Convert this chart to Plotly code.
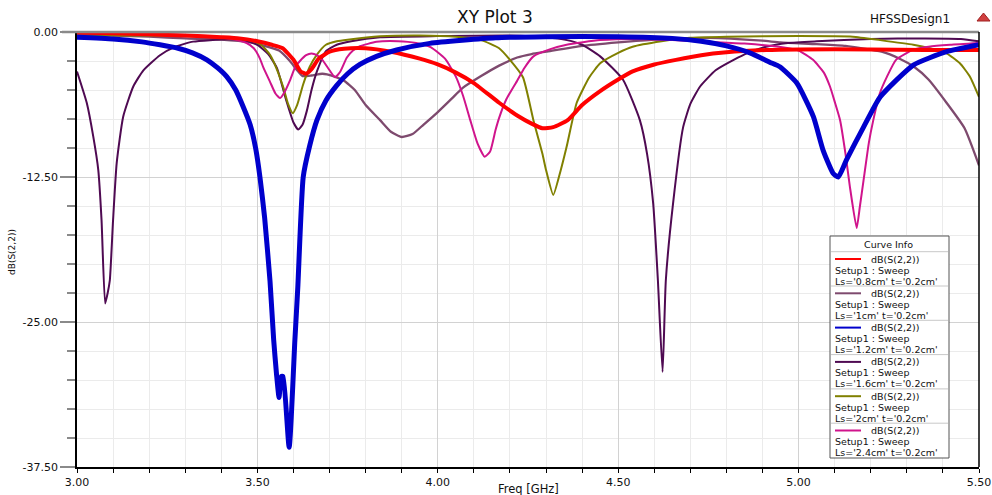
import plotly.graph_objects as go

# ---------------- data ----------------
labels = ["Ls='0.8cm' t='0.2cm'", "Ls='1cm' t='0.2cm'", "Ls='1.2cm' t='0.2cm'",
          "Ls='1.6cm' t='0.2cm'", "Ls='2cm' t='0.2cm'", "Ls='2.4cm' t='0.2cm'"]

f_08 = [3.00, 3.10, 3.20, 3.30, 3.40, 3.45, 3.50, 3.54, 3.57, 3.60, 3.62, 3.635, 3.65, 3.67, 3.70,
        3.74, 3.80, 3.87, 3.95, 4.00, 4.05, 4.10, 4.17, 4.22, 4.26, 4.29, 4.32, 4.36, 4.40, 4.45,
        4.50, 4.54, 4.60, 4.66, 4.73, 4.80, 4.91, 5.00, 5.20, 5.35, 5.50]
s_08 = [-0.05, -0.1, -0.2, -0.3, -0.45, -0.55, -0.8, -1.1, -1.4, -2.4, -3.4, -3.6, -3.2, -2.3, -1.7,
        -1.45, -1.4, -1.7, -2.3, -2.8, -3.5, -4.4, -6.1, -7.2, -7.9, -8.3, -8.2, -7.6, -6.3, -5.1,
        -4.1, -3.4, -2.8, -2.4, -2.0, -1.75, -1.55, -1.5, -1.5, -1.55, -1.55]

f_10 = [3.00, 3.10, 3.20, 3.30, 3.40, 3.48, 3.52, 3.56, 3.59, 3.61, 3.625, 3.65, 3.68, 3.71, 3.74,
        3.77, 3.80, 3.84, 3.87, 3.90, 3.93, 3.96, 4.00, 4.04, 4.07, 4.12, 4.17, 4.22, 4.26, 4.30,
        4.40, 4.50, 4.60, 4.75, 4.90, 4.95, 5.05, 5.13, 5.23, 5.28, 5.32, 5.36, 5.41, 5.46, 5.50]
s_10 = [-0.2, -0.3, -0.4, -0.55, -0.65, -0.9, -1.2, -1.6, -2.5, -3.3, -3.8, -3.75, -3.6, -3.8, -4.2,
        -5.0, -6.3, -7.6, -8.6, -9.05, -8.8, -8.0, -6.9, -5.7, -4.8, -3.8, -2.9, -2.2, -1.9, -1.7,
        -1.2, -0.9, -0.65, -0.5, -0.75, -0.9, -1.05, -1.2, -1.7, -2.3, -3.0, -4.1, -6.1, -8.3, -11.5]

f_12 = [3.00, 3.10, 3.18, 3.23, 3.28, 3.32, 3.36, 3.39, 3.415, 3.44, 3.46, 3.48, 3.495, 3.507, 3.52,
        3.535, 3.545, 3.553, 3.56, 3.566, 3.571, 3.588, 3.604, 3.612, 3.627, 3.645, 3.665, 3.69,
        3.72, 3.75, 3.784, 3.83, 3.886, 3.978, 4.16, 4.30, 4.50, 4.65, 4.73, 4.80, 4.865, 4.92, 4.948,
        4.995, 5.041, 5.068, 5.096, 5.11, 5.133, 5.18, 5.226, 5.318, 5.41, 5.50]
s_12 = [-0.45, -0.6, -0.85, -1.1, -1.4, -1.8, -2.4, -3.1, -3.85, -5.0, -6.4, -8.0, -10.0, -12.5, -16.0,
        -21.5, -26.5, -29.5, -31.5, -29.7, -29.7, -35.8, -26.5, -22.0, -12.5, -9.8, -7.6, -5.9,
        -4.6, -3.6, -2.8, -2.1, -1.55, -0.98, -0.5, -0.4, -0.4, -0.55, -0.8, -1.2, -1.8, -2.6, -3.0,
        -4.4, -7.3, -10.2, -12.2, -12.5, -11.0, -8.2, -5.6, -2.85, -1.7, -1.1]

f_16 = [3.00, 3.027, 3.045, 3.059, 3.068, 3.078, 3.085, 3.091, 3.10, 3.11, 3.128, 3.156, 3.184, 3.23,
        3.27, 3.322, 3.415, 3.46, 3.50, 3.53, 3.554, 3.58, 3.60, 3.613, 3.625, 3.637, 3.65, 3.665,
        3.69, 3.72, 3.76, 3.84, 4.00, 4.20, 4.30, 4.358, 4.40, 4.45, 4.513, 4.56, 4.58, 4.597, 4.61,
        4.623, 4.632, 4.652, 4.68, 4.70, 4.727, 4.77, 4.82, 4.86, 4.91, 4.97, 5.05, 5.20, 5.35,
        5.45, 5.50]
s_16 = [-3.4, -6.1, -9.0, -11.9, -16.2, -23.4, -22.5, -21.4, -16.2, -11.3, -7.3, -4.7, -3.3, -2.0,
        -1.3, -0.83, -0.63, -0.7, -1.1, -1.9, -3.1, -5.9, -7.8, -8.4, -8.0, -6.8, -5.0, -3.4,
        -1.65, -1.1, -0.8, -0.45, -0.35, -0.3, -0.45, -0.7, -1.1, -2.1, -4.1, -7.6, -10.5, -14.8, -21.4,
        -29.3, -21.4, -14.8, -8.2, -6.2, -4.7, -3.3, -2.4, -1.8, -1.27, -0.95, -0.8, -0.6, -0.55,
        -0.6, -0.8]

f_20 = [3.00, 3.10, 3.20, 3.30, 3.40, 3.45, 3.48, 3.51, 3.535, 3.555, 3.572, 3.585, 3.598, 3.61,
        3.627, 3.645, 3.665, 3.69, 3.72, 3.75, 3.84, 3.95, 4.05, 4.12, 4.17, 4.20, 4.236, 4.265,
        4.29, 4.30, 4.32, 4.34, 4.357, 4.385, 4.42, 4.45, 4.50, 4.54, 4.62, 4.70, 4.80, 5.00, 5.15,
        5.226, 5.318, 5.364, 5.41, 5.447, 5.475, 5.50]
s_20 = [-0.35, -0.3, -0.3, -0.35, -0.45, -0.6, -0.7, -1.1, -1.96, -3.3, -4.8, -6.2, -7.0, -6.3,
        -4.5, -3.0, -1.95, -1.1, -0.8, -0.66, -0.37, -0.3, -0.4, -0.7, -1.4, -2.4, -3.9, -7.6,
        -10.5, -11.9, -14.05, -12.0, -9.9, -6.1, -3.9, -2.7, -1.8, -1.27, -0.8, -0.5, -0.4, -0.35, -0.4,
        -0.7, -1.1, -1.4, -1.84, -2.7, -3.85, -5.6]

f_24 = [3.00, 3.10, 3.20, 3.30, 3.38, 3.43, 3.47, 3.49, 3.507, 3.517, 3.535, 3.55, 3.563, 3.575,
        3.59, 3.605, 3.618, 3.635, 3.65, 3.665, 3.68, 3.70, 3.715, 3.73, 3.748, 3.765, 3.784, 3.83,
        3.89, 3.94, 3.98, 4.02, 4.05, 4.07, 4.09, 4.11, 4.13, 4.145, 4.16, 4.17, 4.19, 4.22, 4.24,
        4.265, 4.31, 4.357, 4.45, 4.55, 4.65, 4.75, 4.85, 4.95, 5.00, 5.04, 5.07, 5.087, 5.10, 5.115,
        5.13, 5.142, 5.161, 5.17, 5.18, 5.195, 5.207, 5.225, 5.245, 5.27, 5.32, 5.36, 5.42, 5.50]
s_24 = [-0.05, -0.1, -0.15, -0.25, -0.4, -0.6, -0.95, -1.4, -2.3, -3.1, -4.3, -5.3, -5.7, -5.2,
        -4.2, -3.0, -2.5, -2.0, -1.85, -2.0, -2.4, -3.3, -3.9, -3.4, -2.2, -1.6, -1.23, -0.85,
        -0.8, -0.95, -1.3, -2.3, -3.85, -5.5, -7.6, -9.6, -10.75, -10.3, -8.45, -7.4, -5.8, -4.2, -3.1,
        -2.1, -1.5, -1.1, -0.7, -0.6, -0.7, -0.85, -1.0, -1.3, -1.6, -2.4, -3.5, -4.7, -6.0, -7.6,
        -10.5, -13.3, -16.9, -15.0, -12.8, -9.5, -7.6, -5.3, -3.85, -2.4, -1.5, -1.27, -1.1, -0.95]

x_ticks = [3.0, 3.5, 4.0, 4.5, 5.0, 5.5]
y_ticks = [0.0, -12.5, -25.0, -37.5]

# ---------------- style ----------------
colors = ["#FF0000", "#7E4A6E", "#0000CC", "#4F0A52", "#808000", "#D0148C"]
widths = [4, 2.3, 5, 2, 2, 2]
series = [(f_08, s_08), (f_10, s_10), (f_12, s_12), (f_16, s_16), (f_20, s_20), (f_24, s_24)]
draw_order = [1, 3, 4, 5, 0, 2]

FONT = "DejaVu Sans, Arial, sans-serif"

fig = go.Figure()
for i in draw_order:
    fx, fy = series[i]
    fig.add_trace(go.Scatter(x=fx, y=fy, mode="lines", name=labels[i],
                             line=dict(color=colors[i], width=widths[i], shape="spline", smoothing=0.5),
                             showlegend=False))

L, R, T, B = 77, 979, 32, 467
W, H = 992, 495

def PX(x):
    return (x - L) / (R - L)

def PY(y):
    return (B - y) / (B - T)

shapes = []
annotations = []

# top border (gray) and right border (black)
shapes.append(dict(type="line", xref="paper", yref="paper", x0=PX(62), x1=1, y0=1, y1=1,
                   line=dict(color="#8a8a8a", width=2.5), layer="above"))
shapes.append(dict(type="line", xref="paper", yref="paper", x0=1, x1=1, y0=0, y1=1,
                   line=dict(color="#000000", width=1.5), layer="above"))

# legend box
bx0, bx1, by0, by1 = 830, 949, 236, 458
shapes.append(dict(type="rect", xref="paper", yref="paper", x0=PX(bx0), x1=PX(bx1), y0=PY(by1), y1=PY(by0),
                   fillcolor="white", line=dict(color="#555555", width=1), layer="above"))
annotations.append(dict(text="Curve Info", x=PX(888), y=PY(244), xref="paper", yref="paper",
                        showarrow=False, xanchor="center", yanchor="middle", borderpad=0,
                        font=dict(family=FONT, size=9.5, color="#111111")))
step = 34.3
for i in range(6):
    sep = 251.7 + step * i
    shapes.append(dict(type="line", xref="paper", yref="paper", x0=PX(bx0 + 1), x1=PX(bx1 - 1),
                       y0=PY(sep), y1=PY(sep), line=dict(color="#c8c8c8", width=1), layer="above"))
    y1 = 259 + step * i
    shapes.append(dict(type="line", xref="paper", yref="paper", x0=PX(835), x1=PX(861),
                       y0=PY(y1), y1=PY(y1), line=dict(color=colors[i], width=2), layer="above"))
    for k, txt in enumerate(["dB(S(2,2))", "Setup1 : Sweep", labels[i]]):
        annotations.append(dict(text=txt, x=PX(870 if k == 0 else 834), y=PY(y1 + 11 * k),
                                xref="paper", yref="paper", showarrow=False,
                                xanchor="left", yanchor="middle", borderpad=0,
                                font=dict(family=FONT, size=9.5, color="#111111")))

# titles
annotations.append(dict(text="XY Plot 3", x=PX(495), y=PY(17), xref="paper", yref="paper",
                        showarrow=False, xanchor="center", yanchor="middle",
                        font=dict(family=FONT, size=17, color="#111111")))
annotations.append(dict(text="HFSSDesign1", x=PX(910), y=PY(19), xref="paper", yref="paper",
                        showarrow=False, xanchor="center", yanchor="middle",
                        font=dict(family=FONT, size=12, color="#111111")))
annotations.append(dict(text="Freq [GHz]", x=PX(528), y=PY(489), xref="paper", yref="paper",
                        showarrow=False, xanchor="center", yanchor="middle",
                        font=dict(family=FONT, size=11.5, color="#111111")))
annotations.append(dict(text="dB(S(2,2))", x=PX(12), y=PY(252), xref="paper", yref="paper",
                        showarrow=False, xanchor="center", yanchor="middle", textangle=-90,
                        font=dict(family=FONT, size=9, color="#111111")))

# small logo at top right
shapes.append(dict(type="path", xref="paper", yref="paper",
                   path=f"M {PX(977)} {PY(21)} L {PX(983.5)} {PY(13)} L {PX(990)} {PY(21)} Z",
                   fillcolor="#d04040", line=dict(color="#a02020", width=1), layer="above"))

fig.update_layout(
    width=W, height=H, autosize=False,
    margin=dict(l=L, r=W - R, t=T, b=H - B, pad=0, autoexpand=False),
    paper_bgcolor="white", plot_bgcolor="white",
    font=dict(family=FONT, size=11, color="#111111"),
    shapes=shapes, annotations=annotations,
    showlegend=False,
)
fig.update_xaxes(
    range=[3.0, 5.5], tickvals=x_ticks, ticktext=[f"{v:.2f}" for v in x_ticks],
    automargin=False,
    showgrid=True, gridcolor="#d2d2d2", gridwidth=1,
    ticks="outside", ticklen=4, tickcolor="#000000", tickwidth=1,
    showline=True, linecolor="#000000", linewidth=1.5, mirror=False,
    zeroline=False, tickfont=dict(family=FONT, size=11, color="#111111"),
    minor=dict(dtick=0.1, showgrid=True, gridcolor="#ebebeb", ticks="outside", ticklen=4,
               tickcolor="#000000"),
)
fig.update_yaxes(
    range=[-37.5, 0.0], tickvals=y_ticks, ticktext=[f"{v:.2f}" for v in y_ticks],
    automargin=False,
    showgrid=True, gridcolor="#d2d2d2", gridwidth=1,
    ticks="outside", ticklen=15, tickcolor="#8a8a8a", tickwidth=1.5,
    showline=True, linecolor="#000000", linewidth=1.5, mirror=False,
    zeroline=False, tickfont=dict(family=FONT, size=11, color="#111111"),
    minor=dict(dtick=2.5, tick0=0, showgrid=True, gridcolor="#ebebeb", ticks="outside", ticklen=8,
               tickcolor="#8a8a8a"),
)

fig.write_html("out.html")
